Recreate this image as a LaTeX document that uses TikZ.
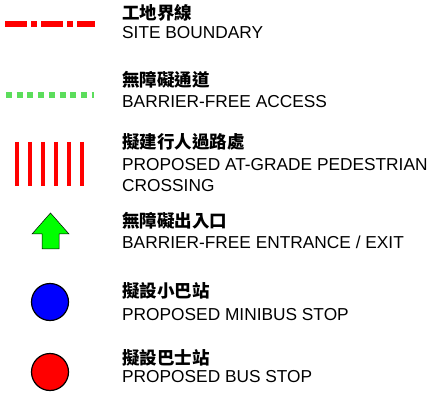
\documentclass[tikz,border=0pt]{standalone}
\usepackage{fontspec}
\setmainfont{Liberation Sans}
\newfontfamily\cjk{Noto Sans CJK TC}
\usepackage{xcolor}
\usepackage{tikz}
\usetikzlibrary{positioning, calc}
\definecolor{lgred}{HTML}{FF0000}
\definecolor{lggreen}{HTML}{5CDD5C}
\definecolor{lgarrow}{HTML}{00FF00}
\definecolor{lgblue}{HTML}{0000FF}

\begin{document}
\begin{tikzpicture}[
  x=1pt, y=-1pt,
  zh/.style={anchor=base west, inner sep=0pt, font=\fontsize{17.5}{20}\selectfont\cjk\bfseries},
  en/.style={anchor=base west, inner sep=0pt, font=\fontsize{17.3}{21}\selectfont},
  stop/.style={draw=black, line width=1.2pt},
]
\useasboundingbox (0,0) rectangle (436,395);

% Symbols
\draw[lgred, line width=6pt, dash pattern=on 22pt off 4pt on 6pt off 4pt] (5,24) -- (95,24);
\draw[lggreen, line width=6pt, dash pattern=on 6pt off 4.7pt] (6,95) -- (94,95);
\foreach \x in {17,30,43,56,69,82}
  \draw[lgred, line width=4pt] (\x,142) -- (\x,186);
\draw[fill=lgarrow, draw=black, line width=0.5pt]
  (50.5,213) -- (69,234) -- (59,234) -- (59,249) -- (42,249) -- (42,234) -- (32,234) -- cycle;
\draw[stop, fill=lgblue] (50,302) circle (18.5);
\draw[stop, fill=lgred] (50,372) circle (18.5);

% Labels
\node[zh] (boundzh) at (122,20) {工地界線};
\node[en] (bounden) at (122,39) {SITE BOUNDARY};
\node[zh] (accesszh) at (122,87) {無障礙通道};
\node[en] (accessen) at (122,108) {BARRIER-FREE ACCESS};
\node[zh] (crosszh) at (122,149) {擬建行人過路處};
\node[en] (crossen) at (122,171) {PROPOSED AT-GRADE PEDESTRIAN};
\node[en] (crossenb) at (122,192) {CROSSING};
\node[zh] (entrzh) at (122,228) {無障礙出入口};
\node[en] (entren) at (122,248) {BARRIER-FREE ENTRANCE / EXIT};
\node[zh] (minizh) at (122,297) {擬設小巴站};
\node[en] (minien) at (122,320) {PROPOSED MINIBUS STOP};
\node[zh] (buszh) at (122,364) {擬設巴士站};
\node[en] (busen) at (122,382) {PROPOSED BUS STOP};
\end{tikzpicture}
\end{document}
